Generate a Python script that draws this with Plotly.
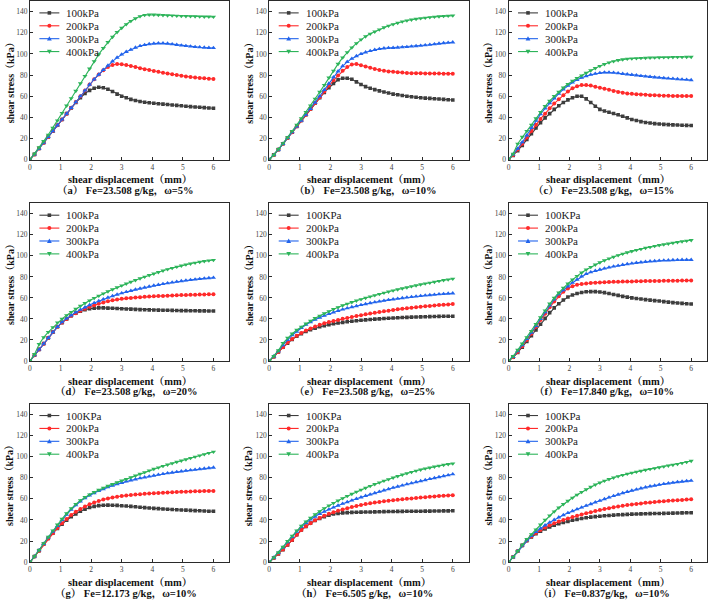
import plotly.graph_objects as go

W, H = 708, 604

# ---------------- data ----------------
DISP = [0, 0.15, 0.3, 0.45, 0.6, 0.75, 0.9, 1.05, 1.2, 1.35,
        1.5, 1.65, 1.8, 1.95, 2.1, 2.25, 2.4, 2.55, 2.7, 2.85,
        3.0, 3.15, 3.3, 3.45, 3.6, 3.75, 3.9, 4.05, 4.2, 4.35,
        4.5, 4.65, 4.8, 4.95, 5.1, 5.25, 5.4, 5.55, 5.7, 5.85,
        6.0]

A_100 = [0, 5, 10.5, 16, 21.5, 27, 32.5, 38, 43.5, 49,
         54, 58.5, 62.5, 65.5, 67.5, 68.5, 68, 66.5, 64.5, 62,
         60, 58.5, 57, 56, 55, 54.3, 53.8, 53.3, 52.9, 52.5,
         52.1, 51.7, 51.3, 50.9, 50.5, 50.1, 49.8, 49.5, 49.2, 48.9,
         48.6]
A_200 = [0, 5, 10.5, 16, 21.5, 27, 32.5, 38, 43.5, 49,
         54.5, 60, 65.5, 71, 76, 80.5, 84.5, 87.5, 89.5, 90.5,
         90.3, 89.5, 88.5, 87.5, 86.5, 85.5, 84.7, 83.9, 83, 82.2,
         81.5, 80.7, 80, 79.3, 78.7, 78.2, 77.7, 77.3, 76.9, 76.6,
         76.3]
A_300 = [0, 5, 10.5, 16, 21.5, 27, 32.5, 38, 43.5, 49,
         54.5, 60, 65.5, 71, 76, 80.5, 85, 89, 93, 96.5,
         99.5, 102, 104, 106, 107.5, 108.5, 109.3, 109.8, 110, 110,
         109.7, 109.2, 108.6, 108, 107.5, 107, 106.6, 106.3, 106, 105.8,
         105.6]
A_400 = [0, 5.5, 11.5, 17.5, 23.5, 30, 37, 44, 51, 58,
         65, 72, 79, 86, 93, 99.5, 105.5, 111, 116, 120.5,
         124.5, 128, 131, 133.5, 135.5, 136.7, 137, 137, 136.8, 136.6,
         136.4, 136.2, 136, 135.8, 135.6, 135.5, 135.4, 135.3, 135.2, 135.1,
         135]

B_100 = [0, 4.5, 9.5, 15, 20.5, 26, 31.5, 37, 42.5, 48,
         53.5, 58.5, 63.5, 68, 72, 75.5, 77, 77, 76, 73.5,
         71, 69, 67.5, 66.2, 65, 64, 63, 62, 61.3, 60.6,
         60, 59.5, 59, 58.6, 58.2, 57.9, 57.6, 57.3, 57, 56.7,
         56.4]
B_200 = [0, 4.5, 9.5, 15, 20.5, 26, 31.5, 37, 42.5, 48,
         53.5, 59, 64.5, 70, 75, 79.5, 84, 87.5, 90, 90.5,
         89.3, 88, 86.8, 85.7, 84.8, 84, 83.4, 83, 82.6, 82.3,
         82, 81.8, 81.7, 81.6, 81.5, 81.5, 81.4, 81.4, 81.3, 81.3,
         81.3]
B_300 = [0, 4.5, 9.5, 15, 20.5, 26, 31.5, 37, 42.5, 48,
         54, 60, 66, 72, 78, 83.5, 88.5, 92.5, 95.5, 98,
         100, 101.5, 102.8, 103.8, 104.7, 105.3, 105.6, 105.8, 106, 106.3,
         106.6, 107, 107.4, 107.8, 108.2, 108.7, 109.2, 109.7, 110.2, 110.6,
         111]
B_400 = [0, 4.5, 10, 15.5, 21, 27, 33, 39, 45, 51,
         57.5, 64, 70.5, 77.5, 84, 90.5, 96.5, 101.5, 106, 110,
         113.5, 116.5, 119, 121, 123, 125, 126.5, 128, 129.3, 130.5,
         131.5, 132.3, 133, 133.6, 134.1, 134.6, 135, 135.4, 135.7, 136,
         136.2]

C_100 = [0, 4, 8.5, 13.5, 19, 24.5, 30, 35, 39.5, 43.5,
         47.5, 51, 54, 56.5, 58.5, 60, 60, 57.5, 54, 50.5,
         47.5, 46, 44.8, 43.7, 42.5, 41, 39.5, 38, 37, 36,
         35.2, 34.6, 34.1, 33.7, 33.4, 33.1, 32.9, 32.7, 32.5, 32.4,
         32.3]
C_200 = [0, 4.5, 9.5, 15, 21, 27, 33, 38.5, 43.5, 48.5,
         53, 57, 61, 64.5, 67.5, 69.5, 70.5, 70.5, 70, 69,
         68, 67, 66, 65, 64, 63.2, 62.6, 62.2, 61.9, 61.6,
         61.3, 61, 60.8, 60.6, 60.5, 60.4, 60.3, 60.2, 60.2, 60.1,
         60.1]
C_300 = [0, 5, 10.5, 16.5, 23, 30, 37, 43, 48.5, 53.5,
         58, 62.5, 66.5, 70, 73, 75.5, 77.5, 79, 80.3, 81.3,
         82, 82.5, 82.5, 82.2, 81.7, 81.2, 80.7, 80.2, 79.7, 79.2,
         78.7, 78.3, 77.9, 77.5, 77.1, 76.8, 76.5, 76.2, 75.9, 75.6,
         75.3]
C_400 = [0, 5.5, 15, 21.5, 27, 33, 39, 45, 50.5, 55.5,
         60, 64, 68, 71.5, 74.5, 77, 79.5, 82, 84.3, 86.5,
         88.5, 90.3, 91.8, 93, 94, 94.8, 95.3, 95.6, 95.8, 96,
         96.2, 96.4, 96.5, 96.6, 96.7, 96.8, 96.9, 97, 97, 97.1,
         97.1]

D_100 = [0, 5.5, 11, 16.5, 22, 27.5, 32.5, 36.5, 40, 43,
         45.5, 47.3, 48.7, 49.7, 50.3, 50.5, 50.5, 50.3, 50.1, 49.9,
         49.7, 49.5, 49.3, 49.1, 48.9, 48.8, 48.6, 48.5, 48.4, 48.3,
         48.2, 48.1, 48, 47.9, 47.9, 47.8, 47.8, 47.7, 47.7, 47.6,
         47.6]
D_200 = [0, 5.5, 11, 16.5, 22, 27.5, 32.5, 36.5, 40, 43,
         45.5, 47.7, 49.7, 51.5, 53, 54.5, 55.7, 56.8, 57.7, 58.5,
         59.1, 59.6, 60, 60.4, 60.7, 61, 61.3, 61.5, 61.7, 61.9,
         62.1, 62.3, 62.5, 62.7, 62.8, 63, 63.1, 63.2, 63.3, 63.4,
         63.5]
D_300 = [0, 5.5, 11, 16.5, 22, 27.5, 32.5, 37, 40.5, 43.5,
         46.3, 48.8, 51, 53.2, 55.2, 57, 58.7, 60.3, 61.8, 63.2,
         64.5, 65.7, 66.8, 67.9, 68.9, 69.9, 70.8, 71.7, 72.5, 73.3,
         74, 74.7, 75.4, 76, 76.6, 77.1, 77.6, 78.1, 78.5, 78.9,
         79.2]
D_400 = [0, 6.5, 16, 22.5, 27.5, 32, 36.5, 40, 43.5, 46.5,
         49.5, 52.3, 55, 57.5, 59.8, 62, 64.1, 66.1, 68, 69.9,
         71.7, 73.5, 75.2, 76.9, 78.5, 80.1, 81.6, 83.1, 84.5, 85.9,
         87.2, 88.4, 89.6, 90.7, 91.7, 92.6, 93.4, 94.2, 94.9, 95.5,
         96]

E_100 = [0, 4, 8.5, 13, 17, 20.5, 23.5, 26, 28, 29.7,
         31.2, 32.5, 33.6, 34.6, 35.4, 36.1, 36.7, 37.3, 37.8, 38.3,
         38.7, 39.1, 39.5, 39.8, 40.1, 40.4, 40.7, 40.9, 41.1, 41.3,
         41.5, 41.7, 41.8, 42, 42.1, 42.2, 42.3, 42.4, 42.5, 42.6,
         42.6]
E_200 = [0, 4, 8.5, 13, 17.5, 21, 24, 26.7, 29, 31,
         32.8, 34.4, 35.8, 37, 38.1, 39.1, 40.1, 41, 41.9, 42.8,
         43.6, 44.4, 45.2, 45.9, 46.6, 47.3, 47.9, 48.5, 49.1, 49.7,
         50.2, 50.7, 51.2, 51.6, 52, 52.4, 52.8, 53.2, 53.5, 53.8,
         54.1]
E_300 = [0, 4.5, 9.5, 15, 20, 24.5, 28, 31.5, 34.5, 37,
         39.3, 41.3, 43.1, 44.8, 46.3, 47.7, 49, 50.2, 51.3, 52.3,
         53.3, 54.2, 55.1, 55.9, 56.7, 57.4, 58.1, 58.7, 59.3, 59.9,
         60.4, 60.9, 61.4, 61.9, 62.3, 62.7, 63.1, 63.5, 63.8, 64.1,
         64.4]
E_400 = [0, 4.5, 10, 17, 22, 26, 29.5, 32.5, 35.5, 38.2,
         40.7, 43, 45.2, 47.3, 49.3, 51.1, 52.8, 54.4, 55.9, 57.3,
         58.7, 60, 61.3, 62.5, 63.7, 64.8, 65.9, 67, 68, 69,
         70, 71, 71.9, 72.8, 73.6, 74.4, 75.2, 76, 76.8, 77.5,
         78.2]

F_100 = [0, 3.5, 8, 13, 18.5, 24, 29.5, 35, 40.5, 46,
         50.5, 54.5, 58, 60.8, 62.8, 64.2, 65.2, 65.8, 66, 66,
         65.6, 65, 64.2, 63.3, 62.4, 61.5, 60.7, 60, 59.4, 58.9,
         58.4, 57.9, 57.4, 57, 56.5, 56, 55.5, 55.1, 54.8, 54.5,
         54.2]
F_200 = [0, 3.5, 8.5, 14, 20, 26, 32.5, 39, 45, 51,
         56.5, 61.5, 65.8, 69, 71.2, 72.5, 73.3, 73.8, 74.2, 74.5,
         74.7, 74.9, 75.1, 75.3, 75.4, 75.5, 75.6, 75.7, 75.8, 75.9,
         76, 76.1, 76.2, 76.2, 76.3, 76.3, 76.4, 76.4, 76.5, 76.5,
         76.6]
F_300 = [0, 4, 9.5, 15, 21, 27, 33.5, 40, 46.5, 53,
         58.5, 63.5, 67.5, 71, 74.5, 77.5, 80.5, 82.8, 84.5, 85.8,
         87, 88, 89, 89.9, 90.7, 91.5, 92.2, 92.8, 93.4, 93.9,
         94.4, 94.8, 95.1, 95.4, 95.6, 95.8, 96, 96.1, 96.2, 96.3,
         96.3]
F_400 = [0, 4.5, 10.5, 16.5, 22.5, 28.5, 35, 41.5, 48, 54.5,
         60, 65, 69.5, 73.5, 77.3, 80.8, 84, 86.8, 89.3, 91.6,
         93.7, 95.6, 97.4, 99, 100.5, 101.9, 103.2, 104.4, 105.5, 106.5,
         107.5, 108.4, 109.3, 110.1, 110.9, 111.6, 112.3, 113, 113.7, 114.3,
         114.9]

G_100 = [0, 5.5, 11, 17, 22.5, 27.5, 32, 36, 39.8, 43,
         45.8, 48.2, 50.2, 51.8, 52.9, 53.6, 54, 54.1, 54, 53.8,
         53.5, 53.2, 52.9, 52.5, 52.1, 51.7, 51.3, 51, 50.7, 50.4,
         50.1, 49.9, 49.7, 49.5, 49.3, 49.1, 48.9, 48.7, 48.5, 48.3,
         48.2]
G_200 = [0, 5.5, 11, 17, 22.5, 27.5, 32.5, 37, 41, 44.7,
         47.8, 50.5, 52.8, 54.8, 56.5, 58, 59.3, 60.4, 61.3, 62,
         62.6, 63.1, 63.6, 64, 64.4, 64.7, 65, 65.3, 65.6, 65.8,
         66, 66.2, 66.4, 66.6, 66.8, 67, 67.1, 67.2, 67.3, 67.4,
         67.5]
G_300 = [0, 5.5, 11.5, 17.5, 23.5, 29, 34.5, 40, 45, 49.8,
         54, 57.6, 60.7, 63.3, 65.5, 67.5, 69.3, 71, 72.5, 73.9,
         75.2, 76.4, 77.5, 78.5, 79.5, 80.4, 81.2, 82, 82.8, 83.5,
         84.2, 84.8, 85.4, 86, 86.6, 87.1, 87.6, 88.1, 88.6, 89.1,
         89.6]
G_400 = [0, 5.5, 11.5, 18, 24, 30, 35.5, 41, 46.2, 51,
         55, 58.5, 61.5, 64, 66.3, 68.4, 70.4, 72.2, 73.9, 75.5,
         77.1, 78.7, 80.3, 81.9, 83.5, 85.1, 86.7, 88.2, 89.6, 91,
         92.3, 93.6, 94.9, 96.1, 97.3, 98.5, 99.7, 100.9, 102.1, 103.3,
         104.5]

H_100 = [0, 4, 8, 12, 16.5, 21, 26, 30.5, 34, 37,
         39.5, 41.5, 43.2, 44.6, 45.6, 46.3, 46.7, 47, 47.2, 47.3,
         47.4, 47.5, 47.6, 47.7, 47.8, 47.9, 48, 48, 48.1, 48.1,
         48.2, 48.2, 48.3, 48.3, 48.4, 48.4, 48.5, 48.5, 48.6, 48.6,
         48.7]
H_200 = [0, 4, 8, 12, 16.5, 21, 26, 30.5, 34, 37,
         39.7, 42, 44, 45.8, 47.3, 48.7, 50, 51.2, 52.3, 53.3,
         54.2, 55, 55.8, 56.5, 57.1, 57.7, 58.2, 58.7, 59.2, 59.6,
         60, 60.4, 60.8, 61.2, 61.6, 62, 62.3, 62.6, 62.9, 63.2,
         63.5]
H_300 = [0, 4.5, 9, 14, 19, 24, 29, 33.5, 37.3, 40.5,
         43.3, 45.8, 48, 50, 51.9, 53.7, 55.4, 57, 58.5, 60,
         61.4, 62.8, 64.2, 65.5, 66.8, 68.1, 69.3, 70.5, 71.6, 72.7,
         73.8, 74.8, 75.8, 76.8, 77.8, 78.8, 79.7, 80.6, 81.5, 82.4,
         83.3]
H_400 = [0, 4.5, 9.5, 14.5, 20, 25, 30, 34.5, 38.5, 42,
         45.2, 48.2, 51, 53.6, 56, 58.3, 60.5, 62.6, 64.6, 66.6,
         68.5, 70.3, 72.1, 73.8, 75.4, 77, 78.5, 80, 81.4, 82.8,
         84.1, 85.3, 86.5, 87.6, 88.6, 89.5, 90.4, 91.2, 92, 92.7,
         93.3]

I_100 = [0, 5, 10.5, 16, 20.5, 24, 27, 29.5, 31.6, 33.4,
         35, 36.4, 37.6, 38.7, 39.7, 40.6, 41.4, 42.1, 42.7, 43.2,
         43.6, 44, 44.3, 44.6, 44.9, 45.1, 45.3, 45.5, 45.6, 45.8,
         45.9, 46, 46.1, 46.2, 46.3, 46.4, 46.5, 46.6, 46.7, 46.8,
         46.9]
I_200 = [0, 5, 10.5, 16, 20.5, 24.5, 27.8, 30.5, 32.9, 35,
         36.9, 38.6, 40.1, 41.5, 42.8, 44, 45.2, 46.3, 47.4, 48.4,
         49.4, 50.3, 51.2, 52, 52.8, 53.5, 54.1, 54.7, 55.2, 55.7,
         56.2, 56.6, 57, 57.4, 57.8, 58.1, 58.4, 58.7, 59, 59.3,
         59.5]
I_300 = [0, 5, 10.5, 16, 21, 25, 28.7, 32, 35, 37.7,
         40.2, 42.5, 44.7, 46.7, 48.5, 50.2, 51.9, 53.5, 55.1, 56.7,
         58.3, 59.8, 61.3, 62.7, 64.1, 65.4, 66.6, 67.8, 68.9, 69.9,
         70.9, 71.8, 72.6, 73.4, 74.1, 74.7, 75.3, 75.8, 76.3, 76.8,
         77.2]
I_400 = [0, 5, 10.5, 16.5, 22, 26.5, 31, 35.5, 40, 44.2,
         48, 51.6, 54.9, 58, 61, 63.8, 66.4, 68.9, 71.2, 73.4,
         75.3, 77, 78.6, 80, 81.3, 82.5, 83.6, 84.6, 85.5, 86.4,
         87.3, 88.1, 88.9, 89.7, 90.5, 91.3, 92.1, 92.9, 93.8, 94.8,
         95.8]

PANEL_SERIES = [
    [A_100, A_200, A_300, A_400],
    [B_100, B_200, B_300, B_400],
    [C_100, C_200, C_300, C_400],
    [D_100, D_200, D_300, D_400],
    [E_100, E_200, E_300, E_400],
    [F_100, F_200, F_300, F_400],
    [G_100, G_200, G_300, G_400],
    [H_100, H_200, H_300, H_400],
    [I_100, I_200, I_300, I_400],
]

NAMES_LOWER = ["100kPa", "200kPa", "300kPa", "400kPa"]
NAMES_UPPER = ["100KPa", "200kPa", "300kPa", "400kPa"]
PANEL_NAMES = [NAMES_LOWER] * 4 + [NAMES_UPPER] * 5

CAPTIONS = [
    "（a） Fe=23.508 g/kg，ω=5%",
    "（b） Fe=23.508 g/kg，ω=10%",
    "（c） Fe=23.508 g/kg，ω=15%",
    "（d） Fe=23.508 g/kg，ω=20%",
    "（e） Fe=23.508 g/kg，ω=25%",
    "（f） Fe=17.840 g/kg，ω=10%",
    "（g） Fe=12.173 g/kg，ω=10%",
    "（h） Fe=6.505 g/kg，ω=10%",
    "（i） Fe=0.837g/kg，ω=10%",
]

X_TITLE = "shear displacement（mm）"
Y_TITLE = "shear stress（kPa）"
X_TICKS = [0, 1, 2, 3, 4, 5, 6]
Y_TICKS = [0, 20, 40, 60, 80, 100, 120, 140]

for ser in PANEL_SERIES:
    for s in ser:
        assert len(s) == len(DISP), len(s)

# ---------------- style ----------------
COLORS = ["#3d3d3d", "#ff2a2a", "#2264ec", "#2db45a"]
SYMBOLS = ["square", "circle", "triangle-up", "triangle-down"]
MSIZE = [3.6, 4, 4.5, 4.5]
FONT = "Liberation Serif, Noto Serif CJK SC, Noto Sans CJK SC, serif"
AXIS_COLOR = "#2a2a2a"

COL_X = [(28, 228), (268, 468), (508, 707)]
ROW_Y = [(1, 161), (205, 364), (407, 567)]


def px(x):
    return x / W


def py(y):
    return 1 - y / H


fig = go.Figure()
annotations = []
shapes = []

for k in range(9):
    r, c = divmod(k, 3)
    x0, x1 = COL_X[c]
    y0, y1 = ROW_Y[r]
    sfx = "" if k == 0 else str(k + 1)
    fig.layout["xaxis" + sfx] = dict(
        domain=[px(x0), px(x1)], range=[0, 6.52], anchor="y" + sfx,
        tickvals=X_TICKS, ticks="inside", ticklen=3, tickwidth=1,
        tickcolor=AXIS_COLOR, showline=True, mirror=True,
        linecolor=AXIS_COLOR, linewidth=1, showgrid=False, zeroline=False,
        tickfont=dict(family=FONT, size=7.5, color="#444"),
    )
    fig.layout["yaxis" + sfx] = dict(
        domain=[py(y1), py(y0)], range=[0, 150], anchor="x" + sfx,
        tickvals=Y_TICKS, ticks="inside", ticklen=3, tickwidth=1,
        tickcolor=AXIS_COLOR, showline=True, mirror=True,
        linecolor=AXIS_COLOR, linewidth=1, showgrid=False, zeroline=False,
        tickfont=dict(family=FONT, size=7.5, color="#444"),
    )
    for j, vals in enumerate(PANEL_SERIES[k]):
        fig.add_trace(go.Scatter(
            x=DISP, y=vals, mode="lines+markers",
            name=PANEL_NAMES[k][j], showlegend=False,
            line=dict(color=COLORS[j], width=1.1),
            marker=dict(symbol=SYMBOLS[j], size=MSIZE[j], color=COLORS[j],
                        line=dict(width=0)),
            xaxis="x" + sfx, yaxis="y" + sfx,
        ))

    cx = (x0 + x1) / 2
    # x-axis title
    annotations.append(dict(
        x=px(cx), y=py(y1 + 20.5), xref="paper", yref="paper",
        text="<b>" + X_TITLE + "</b>", showarrow=False,
        xanchor="center", yanchor="middle",
        font=dict(family=FONT, size=10.5, color="#111")))
    # caption
    annotations.append(dict(
        x=px(cx - 4), y=py(y1 + 31.5), xref="paper", yref="paper",
        text="<b>" + CAPTIONS[k] + "</b>", showarrow=False,
        xanchor="center", yanchor="middle",
        font=dict(family=FONT, size=10.5, color="#111")))
    # y-axis title
    annotations.append(dict(
        x=px(x0 - 20), y=py((y0 + y1) / 2), xref="paper", yref="paper",
        text="<b>" + Y_TITLE + "</b>", showarrow=False, textangle=-90,
        xanchor="center", yanchor="middle",
        font=dict(family=FONT, size=10, color="#111")))

    # legend (inside top-left)
    for j in range(4):
        ly = y0 + 12 + 13 * j
        lx0, lx1 = x0 + 9.5, x0 + 29.5
        mx = (lx0 + lx1) / 2
        col = COLORS[j]
        shapes.append(dict(type="line", xref="paper", yref="paper",
                           x0=px(lx0), x1=px(lx1), y0=py(ly), y1=py(ly),
                           line=dict(color=col, width=1.1)))
        if j == 0:
            s = 1.8
            shapes.append(dict(type="rect", xref="paper", yref="paper",
                               x0=px(mx - s), x1=px(mx + s), y0=py(ly + s), y1=py(ly - s),
                               fillcolor=col, line=dict(width=0)))
        elif j == 1:
            s = 2.0
            shapes.append(dict(type="circle", xref="paper", yref="paper",
                               x0=px(mx - s), x1=px(mx + s), y0=py(ly + s), y1=py(ly - s),
                               fillcolor=col, line=dict(width=0)))
        elif j == 2:
            s = 2.4
            path = "M{:.5f},{:.5f} L{:.5f},{:.5f} L{:.5f},{:.5f} Z".format(
                px(mx - s), py(ly + s * 0.8), px(mx + s), py(ly + s * 0.8), px(mx), py(ly - s))
            shapes.append(dict(type="path", xref="paper", yref="paper", path=path,
                               fillcolor=col, line=dict(width=0)))
        else:
            s = 2.4
            path = "M{:.5f},{:.5f} L{:.5f},{:.5f} L{:.5f},{:.5f} Z".format(
                px(mx - s), py(ly - s * 0.8), px(mx + s), py(ly - s * 0.8), px(mx), py(ly + s))
            shapes.append(dict(type="path", xref="paper", yref="paper", path=path,
                               fillcolor=col, line=dict(width=0)))
        annotations.append(dict(
            x=px(x0 + 34.5), y=py(ly), xref="paper", yref="paper",
            text=PANEL_NAMES[k][j], showarrow=False,
            xanchor="left", yanchor="middle",
            font=dict(family=FONT, size=11, color="#222")))

fig.update_layout(
    width=W, height=H,
    margin=dict(l=0, r=0, t=0, b=0),
    paper_bgcolor="white", plot_bgcolor="white",
    showlegend=False,
    annotations=annotations, shapes=shapes,
)

fig.write_html("out.html")
